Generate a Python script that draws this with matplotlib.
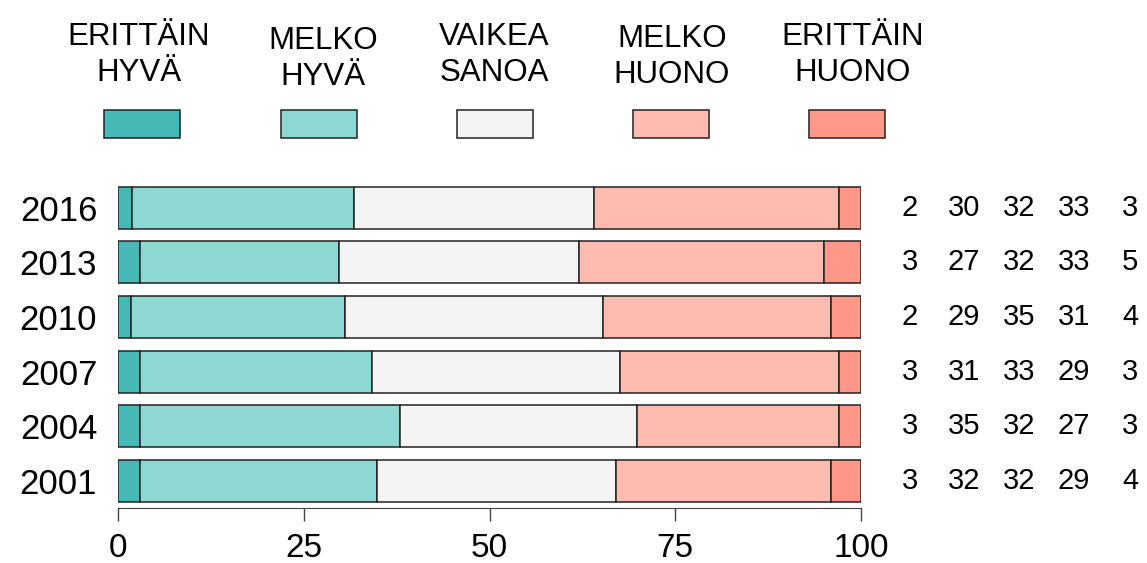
import matplotlib
matplotlib.use("Agg")
import matplotlib.pyplot as plt
import matplotlib.transforms as mtransforms
import numpy as np

matplotlib.rcParams['font.family'] = ['Liberation Sans', 'DejaVu Sans']

# answer categories, left to right
categories = ["ERITTÄIN\nHYVÄ", "MELKO\nHYVÄ", "VAIKEA\nSANOA", "MELKO\nHUONO", "ERITTÄIN\nHUONO"]
colors = ["#46B9B6", "#8DD8D3", "#F4F4F4", "#FFBBB0", "#FF9889"]

years = ["2001", "2004", "2007", "2010", "2013", "2016"]

# shares (%) per year, bottom row first
erittain_hyva = [2.9, 2.9, 2.9, 1.8, 2.9, 1.9]
melko_hyva = [32.0, 35.0, 31.3, 28.7, 26.9, 29.9]
vaikea_sanoa = [32.1, 32.0, 33.4, 34.8, 32.2, 32.2]
melko_huono = [29.0, 27.1, 29.4, 30.7, 33.0, 33.0]
erittain_huono = [4.0, 3.0, 3.0, 4.0, 5.0, 3.0]

# rounded figures printed at the right
shown = [
    [3, 32, 32, 29, 4],
    [3, 35, 32, 27, 3],
    [3, 31, 33, 29, 3],
    [2, 29, 35, 31, 4],
    [3, 27, 32, 33, 5],
    [2, 30, 32, 33, 3],
]

series = [erittain_hyva, melko_hyva, vaikea_sanoa, melko_huono, erittain_huono]

W, H = 1147, 563
fig = plt.figure(figsize=(W / 100, H / 100), dpi=100)
ax = fig.add_axes([118 / W, (H - 508.3) / H, 743 / W, 328 / H])

ypos = np.arange(len(years))
left = np.zeros(len(years))
for vals, col in zip(series, colors):
    vals = np.array(vals)
    ax.barh(ypos, vals, left=left, height=0.77, color=col,
            edgecolor="#222222", linewidth=1.1)
    left = left + vals

ax.set_xlim(0, 100)
ax.set_ylim(-0.5, 5.5)
for s in ["top", "right", "left"]:
    ax.spines[s].set_visible(False)
ax.spines["bottom"].set_bounds(0, 100)
ax.spines["bottom"].set_color("#444444")
ax.set_xticks([0, 25, 50, 75, 100])
ax.tick_params(axis="x", length=9.5, width=1, color="#444444", pad=8, labelsize=24)
ax.set_yticks(ypos)
ax.set_yticklabels(years, fontsize=25)
ax.tick_params(axis="y", length=0, pad=15)

# numbers at the right
trans = mtransforms.blended_transform_factory(fig.transFigure, ax.transData)
col_x = [910, 964, 1019, 1074, 1130]
for i, row in enumerate(shown):
    for x, v in zip(col_x, row):
        ax.text(x / W, ypos[i], str(v), transform=trans, ha="center", va="center",
                fontsize=21, clip_on=False)

# legend on top
box_x = [142, 319, 495, 671, 847]
text_x = [139, 323, 494, 672, 853]
text_y = [55, 59, 55, 57, 55]
for cat, col, bx, tx, ty in zip(categories, colors, box_x, text_x, text_y):
    fig.text(tx / W, 1 - ty / H, cat, ha="center", va="center", fontsize=22.5,
             linespacing=1.3)
    fig.patches.append(plt.Rectangle(((bx - 38) / W, 1 - 138 / H), 76 / W, 28 / H,
                                     transform=fig.transFigure, facecolor=col,
                                     edgecolor="#222222", linewidth=1.1))

fig.savefig("out.png", dpi=100)
